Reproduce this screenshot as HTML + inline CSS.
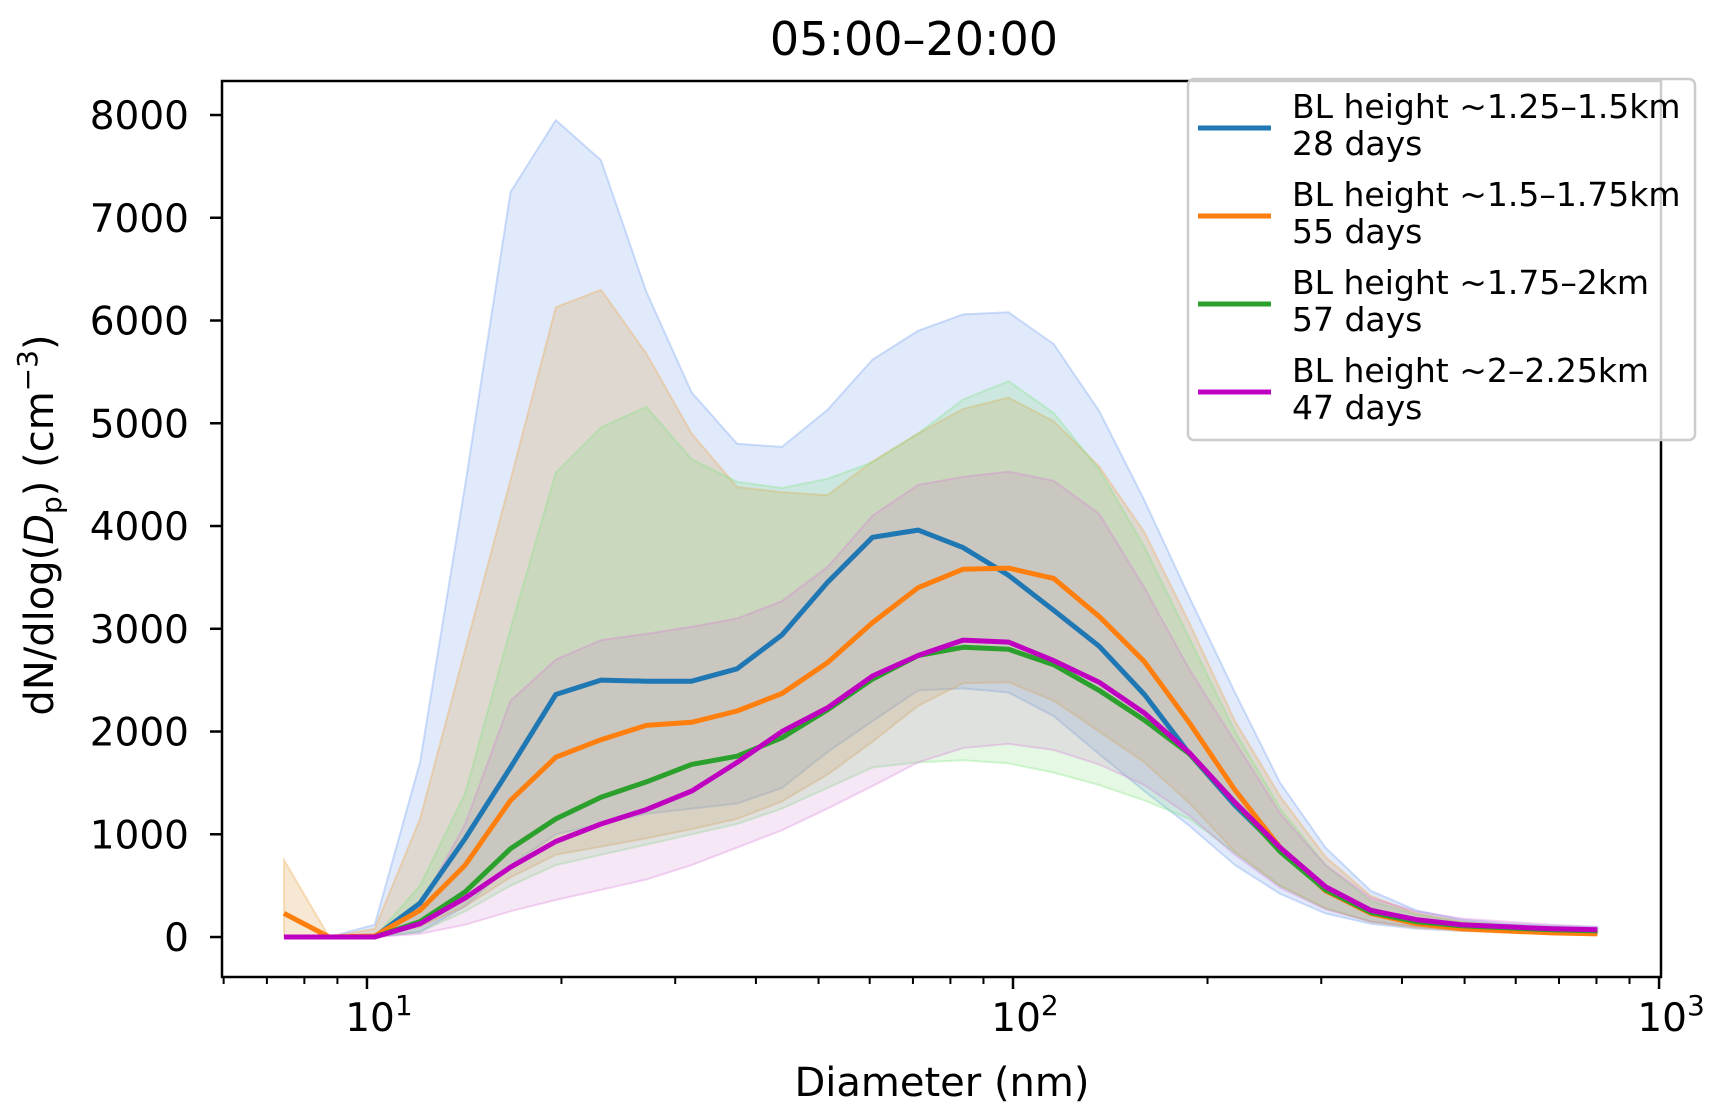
<!DOCTYPE html>
<html><head><meta charset="utf-8"><style>
html,body{margin:0;padding:0;background:#fff;}
svg{display:block;font-family:"DejaVu Sans","Liberation Sans",sans-serif;}
</style></head><body>
<svg id="chart" width="1717" height="1120" viewBox="0 0 1717 1120" xmlns="http://www.w3.org/2000/svg">
<rect width="1717" height="1120" fill="#fff"/>
<text x="914" y="55" font-size="46" text-anchor="middle">05:00–20:00</text>
<g id="bands"></g>
<g id="lines"></g>
<g id="axes"></g>
<text x="942" y="1096" font-size="40" text-anchor="middle">Diameter (nm)</text>
<text transform="translate(53,525) rotate(-90)" font-size="40" text-anchor="middle">dN/dlog(<tspan font-style="italic">D</tspan><tspan font-size="28" dy="8">p</tspan><tspan dy="-8">) (cm</tspan><tspan font-size="28" dy="-16">−3</tspan><tspan dy="16">)</tspan></text>
<g id="legend"></g>
</svg>
<script>
const diameters=[7.44,8.74,10.28,12.08,14.19,16.68,19.60,23.03,27.06,31.8,37.4,43.9,51.6,60.6,71.3,83.7,98.4,115.6,135.9,159.7,187.7,220.6,259.2,304.6,357.9,420.6,494.2,580.8,682.5,802];
const blueMean=[0,0,0,330,960,1650,2360,2500,2490,2490,2610,2940,3450,3890,3960,3790,3520,3180,2830,2360,1780,1280,850,480,260,160,110,90,70,60];
const blueUpper=[0,0,120,1700,4400,7250,7950,7560,6280,5300,4800,4770,5130,5620,5900,6060,6080,5770,5120,4250,3300,2380,1500,870,450,260,170,130,110,100];
const blueLower=[0,0,0,50,300,700,1000,1100,1200,1250,1300,1450,1800,2100,2400,2420,2380,2150,1780,1420,1080,700,420,230,130,80,60,50,40,30];
const orangeMean=[230,0,10,260,700,1330,1750,1920,2060,2090,2200,2370,2670,3060,3400,3580,3590,3490,3120,2680,2080,1430,870,450,230,130,80,60,40,30];
const orangeUpper=[750,0,80,1150,2800,4450,6130,6300,5680,4900,4380,4330,4300,4630,4900,5140,5250,5020,4580,3940,3050,2100,1370,780,400,230,150,110,80,60];
const orangeLower=[0,0,0,100,300,580,800,880,960,1050,1150,1320,1580,1900,2250,2470,2480,2300,2000,1700,1300,830,500,280,150,90,60,40,30,20];
const greenMean=[0,0,0,150,440,860,1150,1360,1510,1680,1760,1940,2210,2510,2740,2820,2800,2650,2400,2110,1780,1310,830,460,240,150,110,90,70,60];
const greenUpper=[0,0,0,500,1400,3000,4520,4960,5160,4650,4430,4370,4460,4620,4900,5230,5410,5100,4550,3800,2900,2000,1250,700,350,220,150,120,100,80];
const greenLower=[0,0,0,50,250,500,700,800,900,1000,1100,1250,1450,1650,1700,1720,1690,1600,1480,1330,1150,820,500,280,150,100,70,60,50,40];
const magentaMean=[0,0,0,130,380,680,930,1100,1240,1420,1700,2000,2230,2540,2740,2890,2870,2690,2480,2180,1790,1310,870,490,260,170,120,100,80,70];
const magentaUpper=[0,0,0,300,1100,2300,2700,2890,2950,3020,3100,3270,3600,4100,4400,4480,4530,4440,4120,3400,2600,1900,1200,700,380,250,180,150,120,100];
const magentaLower=[0,0,0,30,120,250,360,460,560,700,870,1040,1250,1470,1700,1840,1880,1820,1680,1480,1180,800,480,270,150,100,70,60,50,40];
const yTicks=[0,1000,2000,3000,4000,5000,6000,7000,8000];
const xTickExps=[1,2,3];
const legendLabels=["BL height ~1.25–1.5km","BL height ~1.5–1.75km","BL height ~1.75–2km","BL height ~2–2.25km"];
const legendDays=["28 days","55 days","57 days","47 days"];

const NS="http://www.w3.org/2000/svg";
const L=222,R=1661,T=81,B=977;
const xMinL=Math.log10(5.965),xMaxL=3.003,yMin=-389,yMax=8331;
function xs(v){return L+(Math.log10(v)-xMinL)/(xMaxL-xMinL)*(R-L);}
function ys(v){return B-(v-yMin)/(yMax-yMin)*(B-T);}
function mk(tag,attrs,parent){const e=document.createElementNS(NS,tag);for(const k in attrs)e.setAttribute(k,attrs[k]);parent.appendChild(e);return e;}

const series=[
 {name:"blue",mean:blueMean,up:blueUpper,lo:blueLower,line:"#1f77b4",fill:"rgba(100,149,237,0.2)",edge:"rgba(100,149,237,0.3)"},
 {name:"orange",mean:orangeMean,up:orangeUpper,lo:orangeLower,line:"#ff7f0e",fill:"rgba(222,160,70,0.24)",edge:"rgba(240,170,80,0.35)"},
 {name:"green",mean:greenMean,up:greenUpper,lo:greenLower,line:"#2ca02c",fill:"rgba(120,220,120,0.2)",edge:"rgba(120,230,120,0.3)"},
 {name:"magenta",mean:magentaMean,up:magentaUpper,lo:magentaLower,line:"#c000c0",fill:"rgba(200,120,200,0.18)",edge:"rgba(220,120,220,0.3)"}
];
const bands=document.getElementById('bands'),lines=document.getElementById('lines');
series.forEach(s=>{
 let d="";
 diameters.forEach((x,i)=>{d+=(i?"L":"M")+xs(x).toFixed(1)+","+ys(s.up[i]).toFixed(1);});
 for(let i=diameters.length-1;i>=0;i--)d+="L"+xs(diameters[i]).toFixed(1)+","+ys(s.lo[i]).toFixed(1);
 d+="Z";
 const p=mk('path',{d:d,fill:s.fill,stroke:s.edge,'stroke-width':2},bands);
 
 
});
series.forEach(s=>{
 const pts=diameters.map((x,i)=>xs(x).toFixed(1)+","+ys(s.mean[i]).toFixed(1)).join(" ");
 const pl=mk('polyline',{points:pts,fill:'none',stroke:s.line,'stroke-width':5,'stroke-linejoin':'round'},lines);
 
 
});
const ax=document.getElementById('axes');
yTicks.forEach(v=>{
 const y=ys(v);
 const t=mk('line',{x1:L-12,x2:L,y1:y,y2:y,stroke:'#000','stroke-width':2.5},ax);
 
 
 const tx=mk('text',{x:189,y:y+14,'font-size':39,'text-anchor':'end'},ax);
 tx.textContent=v;
 
 
});
for(let e=0;e<=2;e++){for(let m=2;m<=9;m++){const v=m*Math.pow(10,e);const x=xs(v);if(x<L-0.5||x>R+0.5)continue;
 const t=mk('line',{x1:x,x2:x,y1:B,y2:B+7,stroke:'#000','stroke-width':2},ax);
 
 }}
xTickExps.forEach(e=>{
 const x=xs(Math.pow(10,e));
 const t=mk('line',{x1:x,x2:x,y1:B,y2:B+12,stroke:'#000','stroke-width':2.5},ax);
 
 
 const tx=mk('text',{x:x+12,y:1031,'font-size':39,'text-anchor':'middle'},ax);
 tx.innerHTML='10<tspan font-size="28" dy="-16">'+e+'</tspan>';
 
 
});
const fr=mk('rect',{x:L,y:T,width:R-L,height:B-T,fill:'none',stroke:'#000','stroke-width':2.5},ax);



const lg=document.getElementById('legend');
const box=mk('rect',{x:1188,y:79,width:507,height:361,rx:6,fill:'rgba(255,255,255,0.8)',stroke:'#ccc','stroke-width':2.5},lg);


legendLabels.forEach((lab,i)=>{
 const oy=i*88;
 const g=mk('g',{},lg);
 
 
 mk('line',{x1:1198,x2:1271,y1:128+oy,y2:128+oy,stroke:series[i].line,'stroke-width':5},g);
 const t1=mk('text',{x:1292,y:118+oy,'font-size':33},g);t1.textContent=lab;
 const t2=mk('text',{x:1292,y:155+oy,'font-size':33},g);t2.textContent=legendDays[i];
});
</script>
</body></html>
